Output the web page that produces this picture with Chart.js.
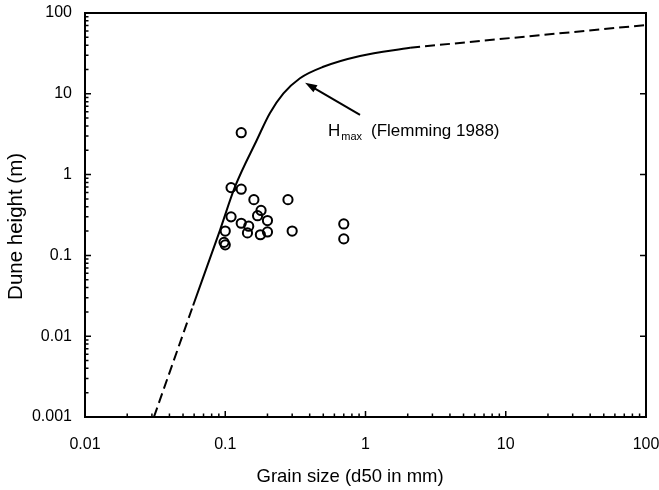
<!DOCTYPE html>
<html>
<head>
<meta charset="utf-8">
<script src="https://cdn.jsdelivr.net/npm/chart.js@4"></script>
<style>
  body { margin: 0; background: #fff; }
</style>
</head>
<body>
<canvas id="chart" width="659" height="490"></canvas>
<script>
// measured dunes (grain size in mm, height in m)
const grainSize = [0.13, 0.11, 0.13, 0.16, 0.28, 0.18, 0.11, 0.17, 0.13, 0.20, 0.147, 0.10, 0.144, 0.178, 0.20, 0.30, 0.70, 0.70, 0.098, 0.10];
const duneHeight = [3.3, 0.69, 0.66, 0.49, 0.49, 0.36, 0.30, 0.31, 0.25, 0.27, 0.23, 0.20, 0.19, 0.18, 0.195, 0.20, 0.245, 0.16, 0.145, 0.135];

// Hmax curve (Flemming 1988)
const lowX = [0.031, 0.059];
const lowY = [0.001, 0.024];
const hmaxX = [0.059, 0.0918, 0.1174, 0.168, 0.208, 0.26, 0.341, 0.5, 0.914, 2.08];
const hmaxY = [0.024, 0.206, 0.708, 2.68, 5.74, 10.1, 15.6, 21.6, 29.4, 37.2];
const highX = [2.08, 100];
const highY = [37.2, 71];

// axis decades / tick labels
const xDecades = [0.01, 0.1, 1, 10, 100];
const xLabels = ['0.01', '0.1', '1', '10', '100'];
const yDecades = [0.001, 0.01, 0.1, 1, 10, 100];
const yLabels = ['0.001', '0.01', '0.1', '1', '10', '100'];

const pts = (xs, ys) => xs.map((x, i) => ({ x: x, y: ys[i] }));

function decadeTicks(decades) {
  const ticks = [];
  decades.forEach((d, i) => {
    ticks.push({ value: d, major: true });
    if (i < decades.length - 1) {
      for (let k = 2; k <= 9; k++) ticks.push({ value: d * k, major: false });
    }
  });
  return ticks;
}

Chart.defaults.font.family = "'Liberation Sans', Arial, Helvetica, sans-serif";
Chart.defaults.color = '#000';

// frame, inward tick marks, arrow and label
const framePlugin = {
  id: 'frame',
  afterDraw(chart) {
    const { ctx, chartArea: a, scales: { x, y } } = chart;
    ctx.save();
    ctx.strokeStyle = '#000';
    ctx.lineWidth = 2;
    ctx.strokeRect(a.left, a.top, a.right - a.left, a.bottom - a.top);

    ctx.lineWidth = 1.5;
    ctx.beginPath();
    x.ticks.forEach(t => {
      const px = x.getPixelForValue(t.value);
      ctx.moveTo(px, a.bottom);
      ctx.lineTo(px, a.bottom - (t.major ? 6 : 3.5));
    });
    y.ticks.forEach(t => {
      const py = y.getPixelForValue(t.value);
      ctx.moveTo(a.left, py);
      ctx.lineTo(a.left + (t.major ? 6 : 3.5), py);
      if (t.major) {
        ctx.moveTo(a.right, py);
        ctx.lineTo(a.right - 6, py);
      }
    });
    ctx.stroke();

    // arrow
    const x0 = x.getPixelForValue(0.914), y0 = y.getPixelForValue(5.47);
    const x1 = x.getPixelForValue(0.371), y1 = y.getPixelForValue(13.7);
    const ang = Math.atan2(y1 - y0, x1 - x0);
    ctx.lineWidth = 2;
    ctx.beginPath();
    ctx.moveTo(x0, y0);
    ctx.lineTo(x1 - 8 * Math.cos(ang), y1 - 8 * Math.sin(ang));
    ctx.stroke();
    ctx.beginPath();
    ctx.moveTo(x1, y1);
    ctx.lineTo(x1 - 12 * Math.cos(ang) + 4 * Math.sin(ang), y1 - 12 * Math.sin(ang) - 4 * Math.cos(ang));
    ctx.lineTo(x1 - 12 * Math.cos(ang) - 4 * Math.sin(ang), y1 - 12 * Math.sin(ang) + 4 * Math.cos(ang));
    ctx.closePath();
    ctx.fillStyle = '#000';
    ctx.fill();

    // label
    const lx = x.getPixelForValue(0.54), ly = y.getPixelForValue(3.0);
    ctx.textBaseline = 'alphabetic';
    ctx.textAlign = 'left';
    ctx.font = "17px 'Liberation Sans', Arial, sans-serif";
    ctx.fillText('H', lx, ly);
    const hw = ctx.measureText('H').width;
    ctx.font = "11px 'Liberation Sans', Arial, sans-serif";
    ctx.fillText('max', lx + hw + 1, ly + 4);
    const mw = ctx.measureText('max').width;
    ctx.font = "17px 'Liberation Sans', Arial, sans-serif";
    ctx.fillText('(Flemming 1988)', lx + hw + 1 + mw + 9, ly);
    ctx.restore();
  }
};

new Chart(document.getElementById('chart'), {
  type: 'scatter',
  data: {
    datasets: [
      {
        data: pts(grainSize, duneHeight),
        pointStyle: 'circle',
        pointRadius: 4.6,
        pointBorderWidth: 2,
        pointBorderColor: '#000',
        pointBackgroundColor: 'rgba(0,0,0,0)',
        showLine: false
      },
      {
        data: pts(lowX, lowY),
        showLine: true,
        borderColor: '#000',
        borderWidth: 2,
        borderDash: [10, 5],
        pointRadius: 0
      },
      {
        data: pts(hmaxX, hmaxY),
        showLine: true,
        borderColor: '#000',
        borderWidth: 2,
        cubicInterpolationMode: 'monotone',
        pointRadius: 0
      },
      {
        data: pts(highX, highY),
        showLine: true,
        borderColor: '#000',
        borderWidth: 2,
        borderDash: [10, 5],
        pointRadius: 0
      }
    ]
  },
  options: {
    responsive: false,
    animation: false,
    layout: { padding: { top: 13, right: 13, left: 0, bottom: 0 } },
    plugins: { legend: { display: false }, tooltip: { enabled: false } },
    scales: {
      x: {
        type: 'logarithmic',
        min: 0.01,
        max: 100,
        afterBuildTicks: s => { s.ticks = decadeTicks(xDecades); },
        afterFit: s => { s.height = 73; s.paddingLeft = 0; s.paddingRight = 0; },
        grid: { display: false, drawTicks: false },
        border: { display: false },
        ticks: {
          autoSkip: false,
          maxRotation: 0,
          minRotation: 0,
          padding: 18,
          font: { size: 16 },
          callback: v => { const i = xDecades.indexOf(v); return i >= 0 ? xLabels[i] : ''; }
        },
        title: {
          display: true,
          text: 'Grain size (d50 in mm)      ',
          font: { size: 18.5 },
          padding: { bottom: 2 }
        }
      },
      y: {
        type: 'logarithmic',
        min: 0.001,
        max: 100,
        afterBuildTicks: s => { s.ticks = decadeTicks(yDecades); },
        afterFit: s => { s.width = 85; s.paddingTop = 0; s.paddingBottom = 0; },
        grid: { display: false, drawTicks: false },
        border: { display: false },
        ticks: {
          autoSkip: false,
          padding: 13,
          font: { size: 16 },
          callback: v => { const i = yDecades.indexOf(v); return i >= 0 ? yLabels[i] : ''; }
        },
        title: {
          display: true,
          text: 'Dune height (m)    ',
          font: { size: 20.5 },
          padding: { top: 4 }
        }
      }
    }
  },
  plugins: [framePlugin]
});
</script>
</body>
</html>
